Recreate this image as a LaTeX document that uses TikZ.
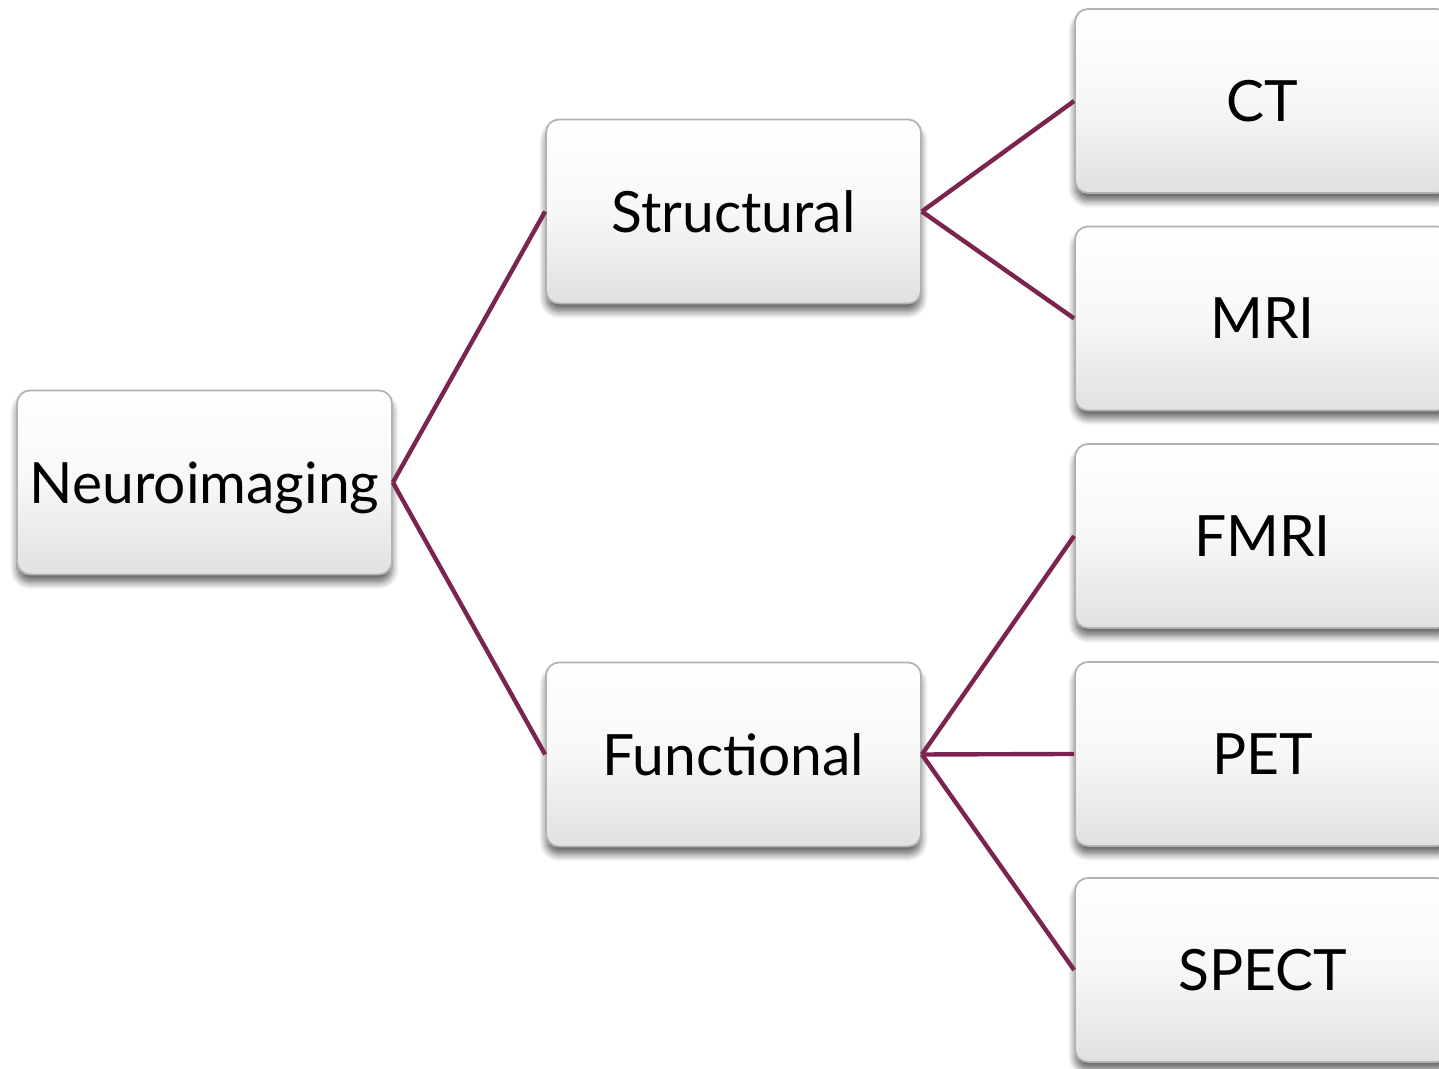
\documentclass[tikz,border=0pt]{standalone}
\usepackage{fontspec}
\setmainfont{Lato}
\usetikzlibrary{shadows.blur}
\definecolor{linkc}{HTML}{7B2450}
\tikzset{
  box/.style={rounded corners=0.13cm, minimum width=3.75cm, minimum height=1.84cm,
    top color=white, bottom color=black!12, middle color=white!97!black,
    draw=black!30, line width=0.5pt, inner sep=0pt, text depth=0pt,
    font=\fontsize{16.2}{19}\selectfont,
    blur shadow={shadow xshift=0pt, shadow yshift=-0.08cm, shadow blur steps=8, shadow opacity=60, shadow blur radius=0.07cm}},
  link/.style={draw=linkc, line width=1.25pt}
}
\begin{document}
\begin{tikzpicture}
\useasboundingbox (0,0) rectangle (14.39,-10.69);
\clip (0,0) rectangle (14.39,-10.69);
\node[box] (neuro) at (2.045,-4.825) {Neuroimaging};
\node[box] (struct) at (7.335,-2.115) {Structural};
\node[box] (func) at (7.335,-7.545) {Functional};
\node[box] (ct) at (12.625,-1.01) {CT};
\node[box] (mri) at (12.625,-3.185) {MRI};
\node[box] (fmri) at (12.625,-5.36) {FMRI};
\node[box] (pet) at (12.625,-7.54) {PET};
\node[box] (spect) at (12.625,-9.70) {SPECT};
\draw[link] (neuro.east) -- (struct.west);
\draw[link] (neuro.east) -- (func.west);
\draw[link] (struct.east) -- (ct.west);
\draw[link] (struct.east) -- (mri.west);
\draw[link] (func.east) -- (fmri.west);
\draw[link] (func.east) -- (pet.west);
\draw[link] (func.east) -- (spect.west);
\end{tikzpicture}
\end{document}
